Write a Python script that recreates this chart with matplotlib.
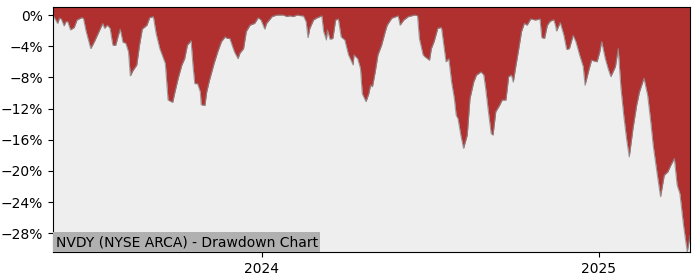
import matplotlib
matplotlib.use("Agg")
import matplotlib.pyplot as plt
import matplotlib.dates as mdates
import numpy as np
import pandas as pd
from matplotlib.ticker import FuncFormatter

TITLE = "NVDY (NYSE ARCA) - Drawdown Chart"

DATES = [
    "2023-05-19", "2023-05-24", "2023-05-26", "2023-05-28", "2023-05-31", "2023-06-02",
    "2023-06-04", "2023-06-07", "2023-06-11", "2023-06-14", "2023-06-19", "2023-06-21",
    "2023-06-24", "2023-06-29", "2023-07-03", "2023-07-08", "2023-07-12", "2023-07-14",
    "2023-07-17", "2023-07-20", "2023-07-23", "2023-07-26", "2023-07-29", "2023-07-31",
    "2023-08-03", "2023-08-06", "2023-08-09", "2023-08-11", "2023-08-14", "2023-08-18",
    "2023-08-21", "2023-08-24", "2023-08-29", "2023-09-01", "2023-09-05", "2023-09-08",
    "2023-09-12", "2023-09-18", "2023-09-21", "2023-09-26", "2023-09-28", "2023-10-02",
    "2023-10-06", "2023-10-09", "2023-10-12", "2023-10-16", "2023-10-18", "2023-10-20",
    "2023-10-23", "2023-10-26", "2023-10-27", "2023-10-31", "2023-11-02", "2023-11-05",
    "2023-11-10", "2023-11-14", "2023-11-18", "2023-11-22", "2023-11-24", "2023-11-27",
    "2023-12-02", "2023-12-06", "2023-12-08", "2023-12-12", "2023-12-15", "2023-12-19",
    "2023-12-24", "2023-12-28", "2023-12-31", "2024-01-04", "2024-01-06", "2024-01-12",
    "2024-01-17", "2024-01-24", "2024-01-28", "2024-01-31", "2024-02-04", "2024-02-08",
    "2024-02-13", "2024-02-15", "2024-02-18", "2024-02-20", "2024-02-22", "2024-02-26",
    "2024-02-29", "2024-03-06", "2024-03-08", "2024-03-11", "2024-03-12", "2024-03-15",
    "2024-03-18", "2024-03-21", "2024-03-24", "2024-03-27", "2024-03-31", "2024-04-04",
    "2024-04-06", "2024-04-09", "2024-04-10", "2024-04-14", "2024-04-17", "2024-04-19",
    "2024-04-23", "2024-04-26", "2024-04-28", "2024-04-30", "2024-05-03", "2024-05-06",
    "2024-05-10", "2024-05-14", "2024-05-16", "2024-05-21", "2024-05-28", "2024-05-30",
    "2024-06-03", "2024-06-08", "2024-06-15", "2024-06-18", "2024-06-20", "2024-06-24",
    "2024-06-26", "2024-07-01", "2024-07-03", "2024-07-06", "2024-07-10", "2024-07-14",
    "2024-07-17", "2024-07-19", "2024-07-22", "2024-07-25", "2024-07-28", "2024-07-30",
    "2024-08-01", "2024-08-04", "2024-08-07", "2024-08-11", "2024-08-14", "2024-08-18",
    "2024-08-21", "2024-08-26", "2024-08-29", "2024-08-31", "2024-09-03", "2024-09-06",
    "2024-09-08", "2024-09-11", "2024-09-15", "2024-09-18", "2024-09-22", "2024-09-25",
    "2024-09-28", "2024-09-30", "2024-10-03", "2024-10-06", "2024-10-09", "2024-10-12",
    "2024-10-15", "2024-10-19", "2024-10-24", "2024-10-29", "2024-10-31", "2024-11-03",
    "2024-11-06", "2024-11-09", "2024-11-13", "2024-11-15", "2024-11-16", "2024-11-20",
    "2024-11-24", "2024-11-27", "2024-11-30", "2024-12-04", "2024-12-07", "2024-12-11",
    "2024-12-15", "2024-12-17", "2024-12-21", "2024-12-24", "2024-12-30", "2025-01-02",
    "2025-01-04", "2025-01-08", "2025-01-11", "2025-01-14", "2025-01-19", "2025-01-22",
    "2025-01-25", "2025-01-28", "2025-01-31", "2025-02-03", "2025-02-07", "2025-02-11",
    "2025-02-14", "2025-02-19", "2025-02-23", "2025-02-26", "2025-03-01", "2025-03-05",
    "2025-03-09", "2025-03-13", "2025-03-17", "2025-03-20", "2025-03-24", "2025-03-27",
    "2025-03-30", "2025-04-03", "2025-04-07", "2025-04-10",
]

# drawdown in percent
DRAWDOWN = [
    0.0, -1.07, -0.4, -0.5, -1.4, -0.85,
    -0.85, -1.9, -1.6, -0.64, -0.34, -0.4,
    -2.1, -4.3, -3.4, -2.1, -1.07, -1.7,
    -1.3, -1.7, -3.85, -3.9, -2.6, -1.8,
    -3.5, -3.6, -4.7, -7.8, -7.1, -6.4,
    -3.85, -1.8, -1.3, -0.34, -0.2, -2.35,
    -4.3, -6.2, -10.9, -11.2, -10.1, -8.1,
    -6.4, -5.6, -3.85, -3.3, -6.4, -8.8,
    -8.8, -9.85, -11.5, -11.6, -9.85, -8.35,
    -6.2, -4.7, -3.4, -2.8, -3.0, -3.0,
    -4.7, -5.6, -4.9, -4.3, -2.1, -1.3,
    -1.07, -0.35, -0.64, -1.8, -1.07, -0.2,
    0.0, 0.0, -0.2, -0.1, -0.2, 0.0,
    -0.1, -0.1, -0.85, -2.9, -1.7, -0.64,
    -0.4, -0.1, -2.1, -3.2, -1.9, -3.1,
    -3.0, -0.64, -0.5, -2.8, -3.2, -5.1,
    -5.6, -6.4, -5.1, -5.6, -6.85, -10.1,
    -11.1, -10.1, -9.0, -9.2, -7.3, -5.1,
    -3.85, -2.1, -1.3, -0.4, -0.1, -1.3,
    -0.64, -0.2, 0.0, -0.1, -3.0, -5.1,
    -5.35, -5.8, -4.3, -3.4, -1.7, -1.6,
    -4.3, -6.0, -5.6, -8.6, -10.7, -12.85,
    -13.3, -15.4, -17.1, -15.4, -10.7, -8.6,
    -7.7, -7.3, -7.7, -9.4, -12.4, -15.2,
    -15.4, -12.4, -11.6, -10.9, -10.9, -7.9,
    -7.7, -8.6, -6.4, -4.3, -2.1, -1.07,
    -1.3, -0.5, -0.64, -0.5, -2.9, -3.0,
    -1.3, -0.8, -0.6, -1.4, -2.05, -0.95,
    -2.6, -4.4, -4.3, -2.6, -3.4, -5.1,
    -6.6, -9.0, -7.1, -5.8, -6.0, -4.7,
    -3.4, -5.6, -6.85, -7.9, -6.6, -4.3,
    -9.4, -12.85, -15.8, -18.2, -14.6, -11.6,
    -9.9, -8.1, -10.3, -13.3, -16.7, -20.1,
    -23.3, -20.55, -20.1, -19.3, -18.4, -21.8,
    -22.9, -27.0, -30.4, -28.3,
]

YTICKS = [0, -4, -8, -12, -16, -20, -24, -28]

dates = pd.to_datetime(DATES)
dd = np.array(DRAWDOWN) / 100.0

fig = plt.figure(figsize=(7, 2.8), dpi=100)
ax = fig.add_axes([0.0757, 0.1, 0.91, 0.875])
ax.set_facecolor("#eeeeee")

ax.fill_between(dates, dd, 0.05, color="#b03030", linewidth=0)
ax.plot(dates, dd, color="#8a8a8a", linewidth=0.8, alpha=0.8)

ax.set_xlim(dates[0], dates[-1])
ax.set_ylim(dd.min(), 0.0103)
ax.set_yticks(np.array(YTICKS) / 100.0)
ax.yaxis.set_major_formatter(FuncFormatter(lambda v, p: f"{v * 100:.0f}%".replace("-", "\u2212")))
ax.xaxis.set_major_locator(mdates.YearLocator())
ax.xaxis.set_major_formatter(mdates.DateFormatter("%Y"))
ax.tick_params(labelsize=10)

ax.text(0.004, 0.012, TITLE, transform=ax.transAxes, fontsize=10, ha="left", va="bottom",
        bbox=dict(facecolor="#b0b0b0", edgecolor="none", pad=2))

fig.savefig("out.png", dpi=100)
